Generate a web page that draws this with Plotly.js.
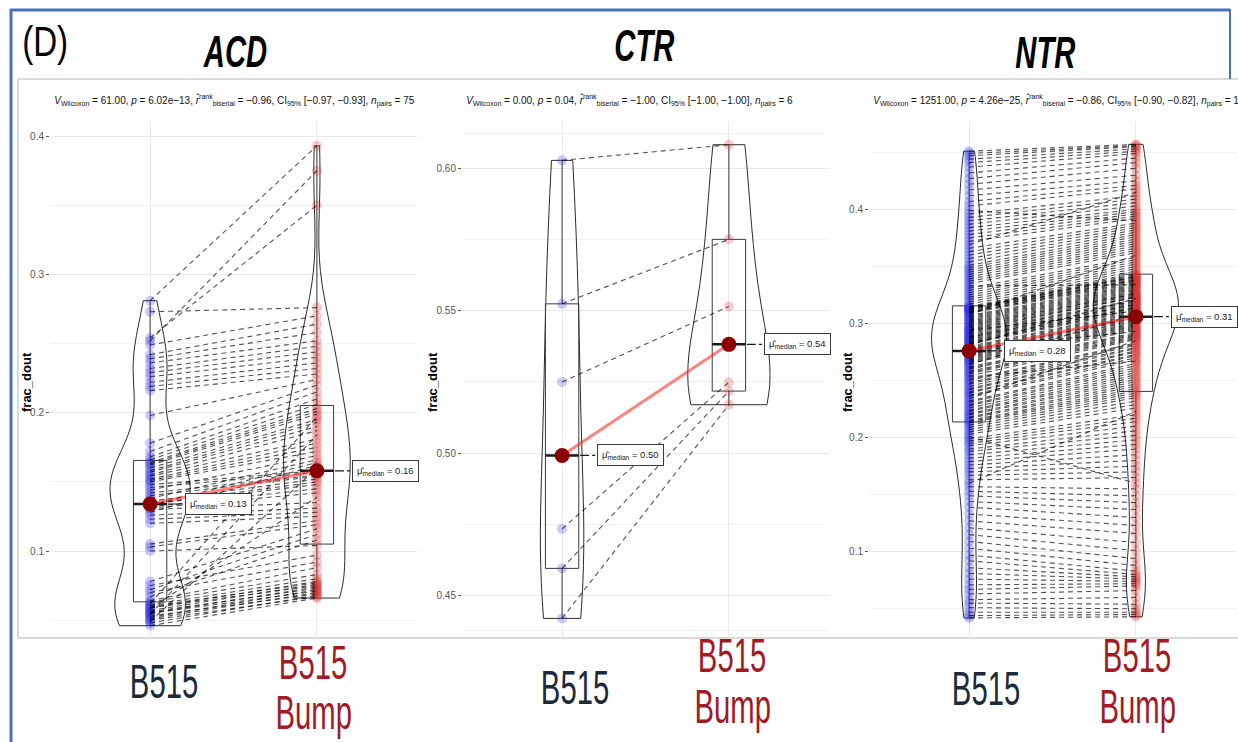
<!DOCTYPE html>
<html>
<head>
<meta charset="utf-8">
<script src="https://cdn.plot.ly/plotly-3.0.1.min.js"></script>
<style>
  html, body { margin: 0; padding: 0; background: #ffffff; }
  #chart { width: 1238px; height: 742px; }
  /* condensed display lettering: panel letter, panel titles, group names */
  .annotation[data-index="0"] .annotation-text { transform-box: fill-box; transform-origin: 50% 50%; transform: scaleX(0.79); }
  .annotation[data-index="1"] .annotation-text,
  .annotation[data-index="2"] .annotation-text,
  .annotation[data-index="3"] .annotation-text { transform-box: fill-box; transform-origin: 50% 50%; transform: scaleX(0.65); }
  .annotation[data-index="4"] .annotation-text,
  .annotation[data-index="5"] .annotation-text,
  .annotation[data-index="6"] .annotation-text,
  .annotation[data-index="7"] .annotation-text,
  .annotation[data-index="8"] .annotation-text,
  .annotation[data-index="9"] .annotation-text,
  .annotation[data-index="10"] .annotation-text,
  .annotation[data-index="11"] .annotation-text,
  .annotation[data-index="12"] .annotation-text { transform-box: fill-box; transform-origin: 50% 50%; transform: scaleX(0.61); }
  /* slightly condensed statistics lines, kept flush left */
  .annotation[data-index="13"] .annotation-text,
  .annotation[data-index="14"] .annotation-text,
  .annotation[data-index="15"] .annotation-text { transform-box: fill-box; transform-origin: 0% 50%; transform: scaleX(0.87); }
</style>
</head>
<body>
<div id="chart"></div>
<script>
// ---------------- values ----------------
const groupNames = ['B515', 'B515 Bump'];
const panelNames = ['ACD', 'CTR', 'NTR'];
const yTitle = 'frac_dout';

// ACD: paired fractions (same index = same pair)
const acdB515 = [
  0.046, 0.048, 0.049, 0.050, 0.051, 0.052, 0.053, 0.054, 0.055, 0.055,
  0.056, 0.057, 0.058, 0.059, 0.059, 0.060, 0.061, 0.062, 0.063, 0.064,
  0.067, 0.070, 0.072, 0.075, 0.078, 0.100, 0.103, 0.105, 0.120, 0.123,
  0.126, 0.128, 0.130, 0.131, 0.132, 0.133, 0.134, 0.134, 0.136, 0.138,
  0.140, 0.142, 0.144, 0.146, 0.148, 0.150, 0.151, 0.152, 0.154, 0.155,
  0.157, 0.158, 0.160, 0.162, 0.163, 0.164, 0.166, 0.168, 0.172, 0.178,
  0.198, 0.216, 0.219, 0.222, 0.226, 0.229, 0.232, 0.236, 0.239, 0.242,
  0.249, 0.252, 0.254, 0.273, 0.281
];
const acdBump = [
  0.066, 0.068, 0.160, 0.067, 0.070, 0.072, 0.069, 0.184, 0.071, 0.074,
  0.073, 0.076, 0.139, 0.075, 0.078, 0.077, 0.080, 0.197, 0.083, 0.088,
  0.108, 0.092, 0.112, 0.097, 0.116, 0.104, 0.119, 0.122, 0.125, 0.128,
  0.131, 0.162, 0.135, 0.142, 0.145, 0.164, 0.148, 0.150, 0.152, 0.166,
  0.154, 0.155, 0.169, 0.157, 0.158, 0.172, 0.175, 0.178, 0.181, 0.187,
  0.190, 0.193, 0.195, 0.199, 0.201, 0.203, 0.206, 0.210, 0.215, 0.220,
  0.224, 0.228, 0.232, 0.236, 0.240, 0.244, 0.248, 0.252, 0.258, 0.264,
  0.270, 0.375, 0.350, 0.276, 0.393
];

// CTR
const ctrB515 = [0.603, 0.5525, 0.525, 0.4733, 0.4594, 0.4418];
const ctrBump = [0.6085, 0.5752, 0.5516, 0.5249, 0.5218, 0.517];

// NTR
const ntrB515 = [
  0.042, 0.044, 0.047, 0.051, 0.055, 0.058, 0.063, 0.067, 0.071, 0.076,
  0.081, 0.086, 0.092, 0.097, 0.103, 0.109, 0.115, 0.121, 0.127, 0.133,
  0.139, 0.144, 0.149, 0.153, 0.157, 0.160, 0.163, 0.167, 0.170, 0.173,
  0.176, 0.179, 0.182, 0.185, 0.188, 0.190, 0.193, 0.195, 0.197, 0.199,
  0.201, 0.203, 0.205, 0.207, 0.209, 0.211, 0.213, 0.214,
  0.215, 0.217, 0.218, 0.220, 0.221, 0.223, 0.224, 0.226, 0.228, 0.229,
  0.231, 0.232, 0.234, 0.236, 0.237, 0.239, 0.240, 0.242, 0.243, 0.245,
  0.247, 0.248, 0.250, 0.251, 0.253, 0.254, 0.256, 0.257, 0.258, 0.260,
  0.261, 0.262, 0.264, 0.265, 0.266, 0.267, 0.268, 0.269, 0.270, 0.271,
  0.272, 0.273, 0.273, 0.274, 0.275, 0.275, 0.276,
  0.277, 0.278, 0.278, 0.279, 0.280, 0.281, 0.282, 0.283, 0.283, 0.284,
  0.285, 0.286, 0.287, 0.288, 0.288, 0.289, 0.290, 0.291, 0.292, 0.293,
  0.294, 0.294, 0.295, 0.296, 0.297, 0.298, 0.299, 0.300, 0.301, 0.302,
  0.303, 0.304, 0.305, 0.306, 0.307, 0.308, 0.309, 0.310, 0.310, 0.311,
  0.312, 0.312, 0.313, 0.313, 0.314, 0.314, 0.315,
  0.317, 0.319, 0.321, 0.323, 0.325, 0.327, 0.329, 0.331, 0.333, 0.335,
  0.337, 0.339, 0.341, 0.343, 0.345, 0.347, 0.349, 0.351, 0.354, 0.357,
  0.360, 0.363, 0.366, 0.369, 0.372, 0.375, 0.378, 0.381, 0.384, 0.387,
  0.390, 0.393, 0.396, 0.399, 0.403, 0.407, 0.412, 0.417, 0.422, 0.427,
  0.432, 0.437, 0.441, 0.444, 0.447, 0.449, 0.451
];
const ntrBump = [
  0.043, 0.045, 0.047, 0.050, 0.054, 0.060, 0.066, 0.070, 0.072, 0.074,
  0.076, 0.078, 0.080, 0.083, 0.088, 0.094, 0.101, 0.108, 0.116, 0.123,
  0.130, 0.137, 0.143, 0.149, 0.155, 0.223, 0.165, 0.170, 0.175, 0.180,
  0.185, 0.190, 0.194, 0.198, 0.202, 0.206, 0.210, 0.214, 0.217, 0.220,
  0.160, 0.226, 0.229, 0.232, 0.235, 0.237, 0.239, 0.241,
  0.243, 0.245, 0.247, 0.249, 0.251, 0.253, 0.255, 0.257, 0.259, 0.261,
  0.263, 0.265, 0.285, 0.268, 0.270, 0.272, 0.273, 0.275, 0.276, 0.278,
  0.279, 0.281, 0.282, 0.283, 0.267, 0.286, 0.287, 0.288, 0.289, 0.290,
  0.291, 0.292, 0.308, 0.294, 0.295, 0.296, 0.297, 0.298, 0.299, 0.300,
  0.301, 0.302, 0.303, 0.304, 0.305, 0.305, 0.306,
  0.307, 0.293, 0.308, 0.309, 0.310, 0.322, 0.311, 0.312, 0.313, 0.314,
  0.314, 0.315, 0.316, 0.317, 0.317, 0.318, 0.319, 0.320, 0.320, 0.321,
  0.311, 0.323, 0.323, 0.324, 0.325, 0.326, 0.326, 0.327, 0.328, 0.329,
  0.330, 0.331, 0.332, 0.333, 0.334, 0.360, 0.335, 0.336, 0.337, 0.338,
  0.338, 0.339, 0.340, 0.341, 0.341, 0.342, 0.343,
  0.344, 0.346, 0.348, 0.350, 0.352, 0.354, 0.356, 0.358, 0.334, 0.362,
  0.364, 0.366, 0.368, 0.370, 0.372, 0.374, 0.376, 0.378, 0.380, 0.382,
  0.384, 0.386, 0.388, 0.415, 0.392, 0.394, 0.396, 0.398, 0.400, 0.403,
  0.406, 0.409, 0.412, 0.390, 0.418, 0.421, 0.425, 0.430, 0.436, 0.441,
  0.445, 0.449, 0.451, 0.453, 0.455, 0.456, 0.457
];

// y-axis ticks
const acdTicks = [0.1, 0.2, 0.3, 0.4];
const acdTickText = ['0.1', '0.2', '0.3', '0.4'];
const ctrTicks = [0.45, 0.50, 0.55, 0.60];
const ctrTickText = ['0.45', '0.50', '0.55', '0.60'];
const ntrTicks = [0.1, 0.2, 0.3, 0.4];
const ntrTickText = ['0.1', '0.2', '0.3', '0.4'];

// test statistics shown above each panel
const wilcoxonV = ['61.00', '0.00', '1251.00'];
const pValues = ['6.02e\u221213', '0.04', '4.26e\u221225'];
const rankBiserial = ['\u22120.96', '\u22121.00', '\u22120.86'];
const ci95 = ['[\u22120.97, \u22120.93]', '[\u22121.00, \u22121.00]', '[\u22120.90, \u22120.82]'];

// ---------------- helpers ----------------
function quantile(arr, p) {
  const s = arr.slice().sort((a, b) => a - b);
  const h = (s.length - 1) * p;
  const lo = Math.floor(h);
  const hi = Math.min(lo + 1, s.length - 1);
  return s[lo] + (h - lo) * (s[hi] - s[lo]);
}
function median(arr) { return quantile(arr, 0.5); }
// Silverman's rule as used by R's density() (bw.nrd0)
function bwNrd0(arr) {
  const n = arr.length;
  const m = arr.reduce((s, v) => s + v, 0) / n;
  const sd = Math.sqrt(arr.reduce((s, v) => s + (v - m) * (v - m), 0) / (n - 1));
  const iqr = quantile(arr, 0.75) - quantile(arr, 0.25);
  return 0.9 * Math.min(sd, iqr / 1.34) * Math.pow(n, -0.2);
}

// ---------------- geometry & style ----------------
const W = 1238, H = 742;
const px = x => x / W;
const py = y => 1 - y / H;

const FONT = 'Liberation Sans, Arial, Helvetica, sans-serif';
const panelLeft = [50, 462, 869];
const panelWidth = 367;
const panelTop = 122, panelBottom = 638;
const yTitleX = [26, 432, 847];
const yRanges = [[0.0371, 0.4102], [0.4349, 0.6165], [0.0244, 0.4766]];
const minorTicks = [[0.05, 0.15, 0.25, 0.35], [0.4375, 0.475, 0.525, 0.575, 0.6125], [0.05, 0.15, 0.25, 0.35, 0.45]];
const violinWidths = [[0.48, 0.40], [0.26, 0.49], [0.45, 0.51]];

const panels = [
  { name: panelNames[0], a: acdB515, b: acdBump, ticks: acdTicks, tickText: acdTickText },
  { name: panelNames[1], a: ctrB515, b: ctrBump, ticks: ctrTicks, tickText: ctrTickText },
  { name: panelNames[2], a: ntrB515, b: ntrBump, ticks: ntrTicks, tickText: ntrTickText }
];

const blueDot = 'rgba(45, 45, 235, 0.26)';
const redDot = 'rgba(215, 45, 45, 0.25)';

const traces = [];
const annotations = [];
const layout = {
  width: W, height: H,
  margin: { l: 0, r: 0, t: 0, b: 0 },
  paper_bgcolor: '#ffffff',
  plot_bgcolor: '#ffffff',
  showlegend: false,
  font: { family: FONT, color: '#222' },
  shapes: [],
  annotations: annotations
};

// big lettering (indices 0..12 are condensed via CSS)
annotations.push({ xref: 'paper', yref: 'paper', x: px(45), y: py(42), text: '(D)', showarrow: false,
  xanchor: 'center', yanchor: 'middle', font: { family: FONT, size: 42, color: '#000' } });
const titleCenters = [[235, 51], [644, 46], [1045, 53]];
panels.forEach((p, i) => annotations.push({ xref: 'paper', yref: 'paper', x: px(titleCenters[i][0]), y: py(titleCenters[i][1]),
  text: '<b><i>' + p.name + '</i></b>', showarrow: false, xanchor: 'center', yanchor: 'middle',
  font: { family: FONT, size: 45, color: '#000' } }));
const darkLabelPos = [[164, 681], [575, 687], [986, 688]];
const redTopPos = [[313, 662], [732, 655], [1137, 655]];
const redBottomPos = [[313, 712], [732, 706], [1137, 706]];
const bumpWords = groupNames[1].split(' ');
darkLabelPos.forEach(q => annotations.push({ xref: 'paper', yref: 'paper', x: px(q[0]), y: py(q[1]), text: groupNames[0],
  showarrow: false, xanchor: 'center', yanchor: 'middle', font: { family: FONT, size: 48, color: '#1c2a3a' } }));
redTopPos.forEach(q => annotations.push({ xref: 'paper', yref: 'paper', x: px(q[0]), y: py(q[1]), text: bumpWords[0],
  showarrow: false, xanchor: 'center', yanchor: 'middle', font: { family: FONT, size: 48, color: '#a11b25' } }));
redBottomPos.forEach(q => annotations.push({ xref: 'paper', yref: 'paper', x: px(q[0]), y: py(q[1]), text: bumpWords[1],
  showarrow: false, xanchor: 'center', yanchor: 'middle', font: { family: FONT, size: 48, color: '#a11b25' } }));

// statistics subtitle per panel, left-aligned to the panel (indices 13..15)
panels.forEach((p, i) => {
  const txt = '<i>V</i><sub>Wilcoxon</sub> = ' + wilcoxonV[i] + ', <i>p</i> = ' + pValues[i] +
    ', <i>r\u0302</i><sup>rank</sup><sub>biserial</sub> = ' + rankBiserial[i] +
    ', CI<sub>95%</sub> ' + ci95[i] + ', <i>n</i><sub>pairs</sub> = ' + p.a.length;
  annotations.push({ xref: 'paper', yref: 'paper', x: px(panelLeft[i] + 2), y: py(100), text: txt, showarrow: false,
    xanchor: 'left', yanchor: 'middle', font: { family: FONT, size: 11.5, color: '#111' } });
});

// frame lines
layout.shapes.push(
  { type: 'line', xref: 'paper', yref: 'paper', x0: px(11), x1: px(11), y0: py(9), y1: py(745), line: { color: '#4a72b8', width: 3 } },
  { type: 'line', xref: 'paper', yref: 'paper', x0: px(10), x1: px(1230), y0: py(10), y1: py(10), line: { color: '#4a72b8', width: 3 } },
  { type: 'line', xref: 'paper', yref: 'paper', x0: px(1230), x1: px(1230), y0: py(9), y1: py(79), line: { color: '#4a72b8', width: 2 } },
  { type: 'rect', xref: 'paper', yref: 'paper', x0: px(18), x1: px(1245), y0: py(638), y1: py(79), line: { color: '#b4b4b4', width: 1 }, fillcolor: 'rgba(0,0,0,0)', layer: 'below' }
);

const medianLabels = [];
panels.forEach((p, i) => {
  const s = i === 0 ? '' : String(i + 1);
  const xa = 'x' + s, ya = 'y' + s;
  const a = p.a, b = p.b;
  const ma = median(a), mb = median(b);

  layout['xaxis' + s] = {
    domain: [px(panelLeft[i]), px(panelLeft[i] + panelWidth)], anchor: ya, type: 'linear',
    range: [0.4, 2.6], tickmode: 'array', tickvals: [1, 2], showticklabels: false, ticks: '',
    showgrid: true, gridcolor: '#e9e9e9', gridwidth: 1, zeroline: false, showline: false, fixedrange: true
  };
  layout['yaxis' + s] = {
    domain: [py(panelBottom), py(panelTop)], anchor: xa, type: 'linear', range: yRanges[i],
    tickmode: 'array', tickvals: p.ticks, ticktext: p.tickText,
    ticks: 'outside', ticklen: 3, tickwidth: 1, tickcolor: '#555',
    tickfont: { family: FONT, size: 10, color: '#555' },
    showgrid: true, gridcolor: '#e9e9e9', gridwidth: 1,
    minor: { tickmode: 'array', tickvals: minorTicks[i], showgrid: true, gridcolor: '#f2f2f2', gridwidth: 1, ticks: '' },
    zeroline: false, showline: false, fixedrange: true
  };

  // violins (trimmed to the data range)
  [a, b].forEach((vals, k) => traces.push({
    type: 'violin', x0: k + 1, y: vals, xaxis: xa, yaxis: ya, name: groupNames[k],
    width: violinWidths[i][k], scalemode: 'width', spanmode: 'hard', bandwidth: bwNrd0(vals),
    line: { color: '#2a2a2a', width: 1 }, fillcolor: 'rgba(0,0,0,0)',
    points: false, box: { visible: false }, meanline: { visible: false }, hoverinfo: 'skip'
  }));
  // box plots
  [a, b].forEach((vals, k) => traces.push({
    type: 'box', x0: k + 1, y: vals, xaxis: xa, yaxis: ya, name: groupNames[k],
    width: 0.2, boxpoints: false, whiskerwidth: 0,
    line: { color: '#3a3a3a', width: 1 }, fillcolor: 'rgba(0,0,0,0)', hoverinfo: 'skip'
  }));

  // observations
  traces.push({ type: 'scatter', mode: 'markers', x: a.map(() => 1), y: a, xaxis: xa, yaxis: ya, name: groupNames[0],
    marker: { color: blueDot, size: 10, line: { width: 0 } } });
  traces.push({ type: 'scatter', mode: 'markers', x: b.map(() => 2), y: b, xaxis: xa, yaxis: ya, name: groupNames[1],
    marker: { color: redDot, size: 10, line: { width: 0 } } });

  // dashed lines joining each pair
  const lx = [], ly = [];
  for (let j = 0; j < a.length; j++) { lx.push(1, 2, null); ly.push(a[j], b[j], null); }
  traces.push({ type: 'scatter', mode: 'lines', x: lx, y: ly, xaxis: xa, yaxis: ya,
    line: { color: 'rgba(0,0,0,0.68)', width: 1.1, dash: '5px,4px' }, hoverinfo: 'skip' });

  // emphasised median bars of the boxes
  traces.push({ type: 'scatter', mode: 'lines', x: [0.9, 1.1, null, 1.9, 2.1], y: [ma, ma, null, mb, mb], xaxis: xa, yaxis: ya,
    line: { color: '#1a1a1a', width: 2.5 }, hoverinfo: 'skip' });
  // dot-dash leaders to the median labels
  traces.push({ type: 'scatter', mode: 'lines', x: [1, 1.21, null, 2, 2.21], y: [ma, ma, null, mb, mb], xaxis: xa, yaxis: ya,
    line: { color: '#1a1a1a', width: 1.2, dash: 'dashdot' }, hoverinfo: 'skip' });
  // path between the medians
  traces.push({ type: 'scatter', mode: 'lines', x: [1, 2], y: [ma, mb], xaxis: xa, yaxis: ya,
    line: { color: 'rgba(255,30,30,0.55)', width: 3 }, hoverinfo: 'skip' });
  // median points
  traces.push({ type: 'scatter', mode: 'markers', x: [1, 2], y: [ma, mb], xaxis: xa, yaxis: ya,
    marker: { color: '#8b0000', size: 15, line: { width: 0 } }, hoverinfo: 'skip' });

  // median labels
  [ma, mb].forEach((m, k) => medianLabels.push({
    xref: xa, yref: ya, x: k + 1 + 0.21, y: m, xanchor: 'left', yanchor: 'middle', showarrow: false,
    text: '\u03bc\u0302<sub>median</sub> = ' + m.toFixed(2),
    bgcolor: '#ffffff', bordercolor: '#3a3a3a', borderwidth: 1, borderpad: 4,
    font: { family: FONT, size: 9.5, color: '#222' }
  }));
});
medianLabels.forEach(l => annotations.push(l));

// y-axis titles
yTitleX.forEach(x => annotations.push({ xref: 'paper', yref: 'paper', x: px(x), y: py(382), text: yTitle,
  textangle: -90, showarrow: false, xanchor: 'center', yanchor: 'middle',
  font: { family: FONT, size: 13, color: '#000', weight: 'bold' } }));

Plotly.newPlot('chart', traces, layout, { staticPlot: true, displayModeBar: false });
</script>
</body>
</html>
